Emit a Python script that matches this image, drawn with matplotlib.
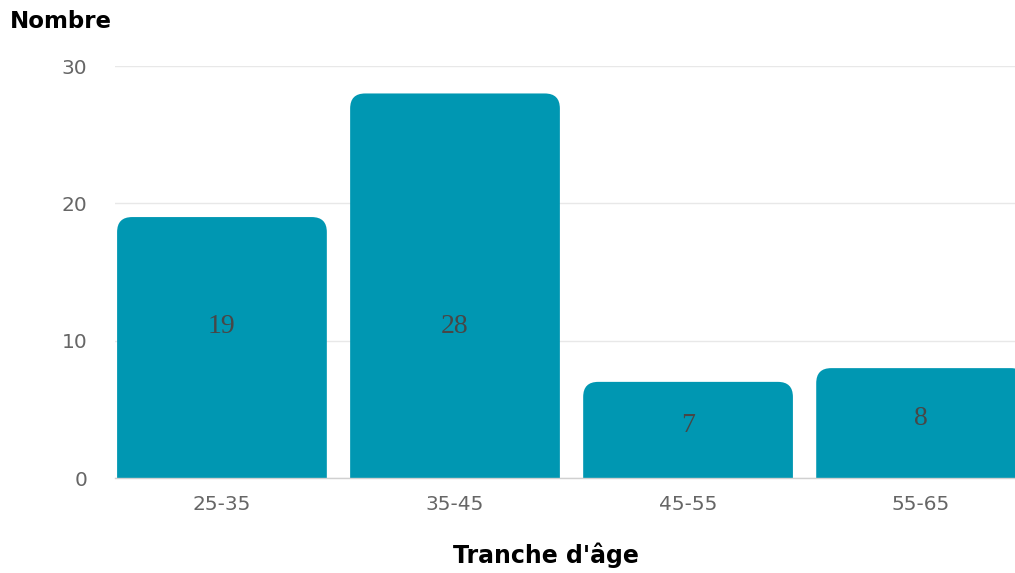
import numpy as np
import matplotlib.pyplot as plt
from matplotlib.patches import FancyBboxPatch

tranches = ["25-35", "35-45", "45-55", "55-65"]
nombres = [19, 28, 7, 8]
y_ticks = [0, 10, 20, 30]

bar_color = "#0097b2"
bar_width = 0.9

fig = plt.figure(figsize=(10.15, 5.73), dpi=100)
ax = fig.add_axes([115 / 1015, 95 / 573, 900 / 1015, 412 / 573])

x = np.arange(len(tranches))
ax.set_xlim(-0.459, 3.403)
ax.set_ylim(0, 30)

# rounding radius ~15 px: x unit is ~233 px, y unit ~13.7 px
x_px = 233.0
y_px = 412 / 30
radius = 15 / x_px
aspect = x_px / y_px

for xi, v in zip(x, nombres):
    # box starts below zero so the bottom corners are clipped away
    box = FancyBboxPatch((xi - bar_width / 2, -2), bar_width, v + 2,
                         boxstyle=f"round,pad=0,rounding_size={radius}",
                         mutation_aspect=aspect,
                         facecolor=bar_color, edgecolor="none", zorder=2)
    ax.add_patch(box)
    ly = 11 if v > 15 else v / 2 + 0.3
    ax.text(xi, ly, str(v), ha="center", va="center", fontsize=20,
            color="#474747", family="Liberation Serif", zorder=3)

ax.set_xticks(x)
ax.set_xticklabels(tranches)
ax.set_yticks(y_ticks)
ax.tick_params(axis="both", length=0, labelsize=14.5, labelcolor="#666666")
ax.tick_params(axis="x", pad=12)
ax.tick_params(axis="y", pad=20)

ax.grid(axis="y", color="#e8e8e8", linewidth=1, zorder=0)
ax.set_axisbelow(True)
for side in ["top", "right", "left"]:
    ax.spines[side].set_visible(False)
ax.spines["bottom"].set_color("#d0d0d0")
ax.spines["bottom"].set_linewidth(1)

fig.text(10 / 1015, 1 - 21 / 573, "Nombre", fontsize=16.5, fontweight="bold",
         color="black", ha="left", va="center")
fig.text(546 / 1015, 1 - 555 / 573, "Tranche d'âge", fontsize=17,
         fontweight="bold", color="black", ha="center", va="center")

fig.savefig("out.png", dpi=100)
